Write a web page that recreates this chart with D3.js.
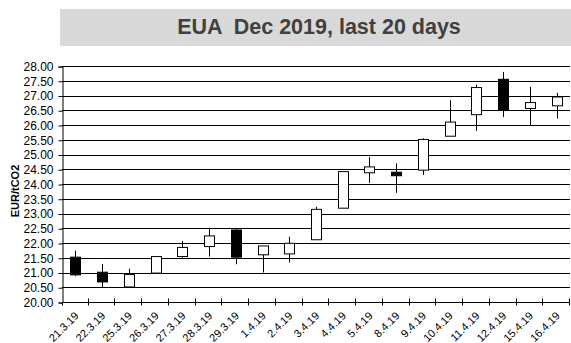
<!DOCTYPE html>
<html>
<head>
<meta charset="utf-8">
<script src="https://cdn.jsdelivr.net/npm/d3@7"></script>
<style>
  body { margin: 0; background: #fff; }
  text { font-family: "Liberation Sans", Arial, sans-serif; }
</style>
</head>
<body>
<div id="chart"></div>
<script>
// EUA Dec 2019 daily prices
const days = ["21.3.19", "22.3.19", "25.3.19", "26.3.19", "27.3.19", "28.3.19", "29.3.19",
    "1.4.19", "2.4.19", "3.4.19", "4.4.19", "5.4.19", "8.4.19", "9.4.19", "10.4.19",
    "11.4.19", "12.4.19", "15.4.19", "16.4.19"];
const open  = [21.52, 21.01, 20.51, 20.98, 21.54, 21.88, 22.44, 21.60, 21.63, 22.11,
    23.18, 24.38, 24.40, 24.47, 25.62, 26.35, 27.55, 26.56, 26.65];
const high  = [21.74, 21.29, 21.13, 21.54, 22.07, 22.52, 22.47, 21.90, 22.21, 23.23,
    24.42, 24.92, 24.70, 25.55, 26.84, 27.37, 27.80, 27.29, 27.09];
const low   = [20.88, 20.51, 20.50, 20.98, 21.50, 21.54, 21.28, 21.00, 21.34, 22.11,
    23.18, 24.04, 23.70, 24.31, 25.62, 25.80, 26.27, 26.00, 26.22];
const close = [20.92, 20.68, 20.93, 21.54, 21.85, 22.24, 21.52, 21.90, 21.99, 23.14,
    24.42, 24.58, 24.28, 25.51, 26.10, 27.27, 26.52, 26.76, 26.95];
const yTicks = d3.range(20, 28.001, 0.5);

const width = 571, height = 343;
const margin = { top: 66, right: 1, bottom: 41, left: 62 };

const data = days.map((d, i) => ({ day: d, o: open[i], h: high[i], l: low[i], c: close[i] }));

const svg = d3.select("#chart")
    .append("svg")
    .attr("width", width)
    .attr("height", height);

// title band
svg.append("rect")
    .attr("x", 60).attr("y", 9)
    .attr("width", 511).attr("height", 37)
    .attr("fill", "#d9d9d9");
svg.append("text")
    .attr("x", 319).attr("y", 34)
    .attr("text-anchor", "middle")
    .attr("font-size", 21.5)
    .attr("font-weight", "bold")
    .attr("fill", "#404040")
    .style("white-space", "pre")
    .text("EUA  Dec 2019, last 20 days");

const x = d3.scaleBand()
    .domain(days)
    .range([margin.left, width - margin.right]);

const y = d3.scaleLinear()
    .domain([20, 28])
    .range([height - margin.bottom, margin.top]);

// gridlines
svg.append("g")
    .selectAll("line")
    .data(yTicks)
    .join("line")
    .attr("x1", margin.left).attr("x2", width - margin.right)
    .attr("y1", d => Math.round(y(d)) + 0.5)
    .attr("y2", d => Math.round(y(d)) + 0.5)
    .attr("stroke", "#000")
    .attr("stroke-width", 1);

// y axis
const yAxis = svg.append("g")
    .attr("transform", `translate(${margin.left + 0.5},0.5)`)
    .call(d3.axisLeft(y).tickValues(yTicks).tickFormat(d3.format(".2f")).tickSize(4).tickPadding(5));
yAxis.select(".domain").attr("stroke", "#000");
yAxis.selectAll("text").attr("font-size", 12).attr("fill", "#000")
    .attr("font-family", "Liberation Sans, Arial, sans-serif");

// x axis, ticks on the band boundaries crossing the line
const xBase = Math.round(y(20)) + 0.5;
svg.append("line")
    .attr("x1", margin.left).attr("x2", width - margin.right)
    .attr("y1", xBase).attr("y2", xBase)
    .attr("stroke", "#000");
svg.append("line")
    .attr("x1", margin.left + 0.5).attr("x2", margin.left + 0.5)
    .attr("y1", xBase).attr("y2", xBase + 3)
    .attr("stroke", "#000");
svg.append("g")
    .selectAll("line")
    .data(days.slice(1).concat(["end"]))
    .join("line")
    .attr("x1", (d, i) => Math.round(margin.left + (i + 1) * x.step()) - 0.5)
    .attr("x2", (d, i) => Math.round(margin.left + (i + 1) * x.step()) - 0.5)
    .attr("y1", xBase - 4).attr("y2", xBase + 3)
    .attr("stroke", "#000");

svg.append("g")
    .selectAll("text")
    .data(days)
    .join("text")
    .attr("text-anchor", "end")
    .attr("font-size", 11)
    .attr("fill", "#000")
    .attr("transform", d => `translate(${x(d) + x.bandwidth() / 2 + 4},${xBase + 14}) rotate(-45)`)
    .text(d => d);

// y axis title
svg.append("text")
    .attr("transform", "translate(18.5,191) rotate(-90)")
    .attr("text-anchor", "middle")
    .attr("font-size", 11)
    .attr("font-weight", "bold")
    .attr("fill", "#000")
    .text("EUR/tCO2");

// candles
const bodyW = 10;
const candle = svg.append("g")
    .selectAll("g")
    .data(data)
    .join("g");

candle.append("line")
    .attr("x1", d => Math.round(x(d.day) + x.bandwidth() / 2) + 0.5)
    .attr("x2", d => Math.round(x(d.day) + x.bandwidth() / 2) + 0.5)
    .attr("y1", d => y(d.h))
    .attr("y2", d => y(d.l))
    .attr("stroke", "#000");

candle.append("rect")
    .attr("x", d => Math.round(x(d.day) + x.bandwidth() / 2 - bodyW / 2) + 0.5)
    .attr("y", d => y(Math.max(d.o, d.c)))
    .attr("width", bodyW)
    .attr("height", d => Math.max(2, y(Math.min(d.o, d.c)) - y(Math.max(d.o, d.c))))
    .attr("fill", d => d.c < d.o ? "#000" : "#fff")
    .attr("stroke", "#000");
</script>
</body>
</html>
